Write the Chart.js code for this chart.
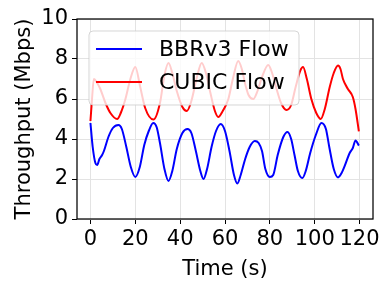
<!DOCTYPE html>
<html>
<head>
<meta charset="utf-8">
<script src="https://cdn.jsdelivr.net/npm/chart.js@4/dist/chart.umd.min.js"></script>
<style>
  html, body { margin: 0; padding: 0; background: #fff; }
  #wrap { width: 390px; height: 290px; }
</style>
</head>
<body>
<div id="wrap"><canvas id="myChart" width="390" height="290"></canvas></div>
<script>
// data
var bbrTime = [0, 1, 2.2, 3, 4, 5.2, 6, 8, 10, 12.5, 14, 16, 18, 20, 22, 24, 26, 28, 29.5, 31, 33, 34.8,
  36.5, 38.5, 41, 43.3, 45, 47, 49, 50.4, 52, 54, 56, 58.1, 60, 62, 64, 65.5, 67, 69, 71, 73.3, 75,
  76.5, 78, 80, 81.5, 83.5, 86, 87.9, 89.5, 91, 92.5, 94.5, 96, 98, 100.5, 103, 105, 106.5, 108.5,
  110.4, 112, 113.3, 115.6, 117, 118.2, 119.7];
var bbrValues = [4.8, 3.6, 2.8, 2.7, 3.0, 3.2, 3.4, 4.1, 4.55, 4.7, 4.5, 3.6, 2.6, 2.1, 2.6, 3.7, 4.4, 4.8, 4.6, 3.8, 2.5, 1.9,
  2.4, 3.5, 4.3, 4.5, 4.3, 3.4, 2.4, 2.0, 2.5, 3.6, 4.4, 4.75, 4.4, 3.4, 2.2, 1.77, 2.2, 3.0, 3.6, 3.9, 3.8,
  3.4, 2.5, 2.1, 2.2, 3.2, 4.1, 4.35, 4.0, 3.2, 2.4, 2.05, 2.4, 3.3, 4.2, 4.8, 4.5, 3.6, 2.5,
  2.08, 2.3, 2.63, 3.3, 3.55, 3.93, 3.67];

var cubicTime = [0, 0.7, 1.5, 3, 4.4, 6.7, 8.9, 11.9, 13.5, 15.6, 17.8, 20, 22.2, 24.4, 28.1, 31, 33, 34.8,
  36.5, 38.5, 41, 43, 45, 47.5, 49.6, 51.5, 53.5, 55.5, 57, 59, 61.5, 63.5, 65.9, 67.5, 68.9, 70.5, 72.6,
  74.5, 76.5, 79.3, 81, 83, 85, 87.4, 89.5, 91.5, 93.5, 94.8, 96.5, 98.5, 100.7, 102.7, 104.5, 106.7,
  108.5, 110.4, 111.5, 112.6, 114.8, 117, 118.2, 119.7];
var cubicValues = [4.9, 6.0, 7.0, 6.8, 6.5, 5.8, 5.3, 5.0, 5.3, 6.0, 7.0, 7.6, 6.6, 5.55, 4.97, 5.8, 7.2, 7.8,
  7.3, 6.4, 5.6, 5.4, 5.9, 7.1, 7.8, 7.3, 6.3, 5.4, 5.1, 5.4, 6.0, 7.0, 7.9, 7.5, 6.8, 6.2, 6.0,
  6.4, 7.1, 7.7, 7.3, 6.5, 5.8, 5.45, 5.7, 6.6, 7.4, 7.6, 7.0, 6.0, 5.3, 5.0, 5.5, 6.6,
  7.3, 7.67, 7.5, 7.0, 6.5, 6.1, 5.5, 4.38];

var xTicks = [0, 20, 40, 60, 80, 100, 120];
var yTicks = [0, 2, 4, 6, 8, 10];
var seriesNames = ['BBRv3 Flow', 'CUBIC Flow'];

function toPoints(xs, ys) {
  return xs.map(function (x, i) { return { x: x, y: ys[i] }; });
}

var FONT = 'DejaVu Sans';
var FSIZE = 21;

// matplotlib-like frame and legend box
var framePlugin = {
  id: 'frame',
  afterDatasetsDraw: function (chart) {
    var ctx = chart.ctx, a = chart.chartArea;
    ctx.save();
    // legend
    var lx = 89, ly = 31, lw = 210, lh = 74, r = 4;
    ctx.beginPath();
    ctx.moveTo(lx + r, ly);
    ctx.arcTo(lx + lw, ly, lx + lw, ly + lh, r);
    ctx.arcTo(lx + lw, ly + lh, lx, ly + lh, r);
    ctx.arcTo(lx, ly + lh, lx, ly, r);
    ctx.arcTo(lx, ly, lx + lw, ly, r);
    ctx.closePath();
    ctx.fillStyle = 'rgba(255,255,255,0.8)';
    ctx.fill();
    ctx.strokeStyle = 'rgba(204,204,204,0.8)';
    ctx.lineWidth = 1;
    ctx.stroke();
    var rows = [49, 82];
    chart.data.datasets.forEach(function (ds, i) {
      ctx.beginPath();
      ctx.moveTo(96, rows[i]);
      ctx.lineTo(142, rows[i]);
      ctx.strokeStyle = ds.borderColor;
      ctx.lineWidth = 2;
      ctx.stroke();
      ctx.fillStyle = '#000';
      ctx.font = '22px "' + FONT + '"';
      ctx.textBaseline = 'middle';
      ctx.textAlign = 'left';
      ctx.fillText(ds.label, 159, rows[i] + 1);
    });
    // axes box
    ctx.strokeStyle = '#000';
    ctx.lineWidth = 1.25;
    ctx.strokeRect(a.left, a.top, a.right - a.left, a.bottom - a.top);
    ctx.restore();
  }
};

var ctx = document.getElementById('myChart').getContext('2d');
var chart = new Chart(ctx, {
  type: 'line',
  data: {
    datasets: [{
      label: seriesNames[0],
      data: toPoints(bbrTime, bbrValues),
      borderColor: 'blue',
      borderWidth: 2,
      pointRadius: 0,
      cubicInterpolationMode: 'monotone',
      order: 1
    }, {
      label: seriesNames[1],
      data: toPoints(cubicTime, cubicValues),
      borderColor: 'red',
      borderWidth: 2,
      pointRadius: 0,
      cubicInterpolationMode: 'monotone',
      order: 0
    }]
  },
  options: {
    responsive: false,
    animation: false,
    layout: { padding: { left: 0, right: 17, top: 19, bottom: 0 } },
    plugins: { legend: { display: false }, tooltip: { enabled: false } },
    scales: {
      x: {
        type: 'linear',
        min: -6,
        max: 126,
        afterBuildTicks: function (scale) {
          scale.ticks = xTicks.map(function (v) { return { value: v }; });
        },
        afterFit: function (scale) { scale.height = 71; },
        grid: { color: '#e3e3e3', tickColor: '#000', tickLength: 5, lineWidth: 1 },
        border: { display: false },
        ticks: { color: '#000', font: { family: FONT, size: FSIZE }, padding: 3, maxRotation: 0 },
        title: { display: true, text: 'Time (s)', color: '#000', font: { family: FONT, size: FSIZE }, padding: { top: 0, bottom: 8 } }
      },
      y: {
        min: 0,
        max: 10,
        afterBuildTicks: function (scale) {
          scale.ticks = yTicks.map(function (v) { return { value: v }; });
        },
        afterFit: function (scale) { scale.width = 77; },
        grid: { color: '#e3e3e3', tickColor: '#000', tickLength: 5, lineWidth: 1 },
        border: { display: false },
        ticks: { color: '#000', font: { family: FONT, size: FSIZE }, padding: 4 },
        title: { display: true, text: 'Throughput (Mbps)', color: '#000', font: { family: FONT, size: FSIZE }, padding: { top: 12, bottom: 0 } }
      }
    }
  },
  plugins: [framePlugin]
});
</script>
</body>
</html>
